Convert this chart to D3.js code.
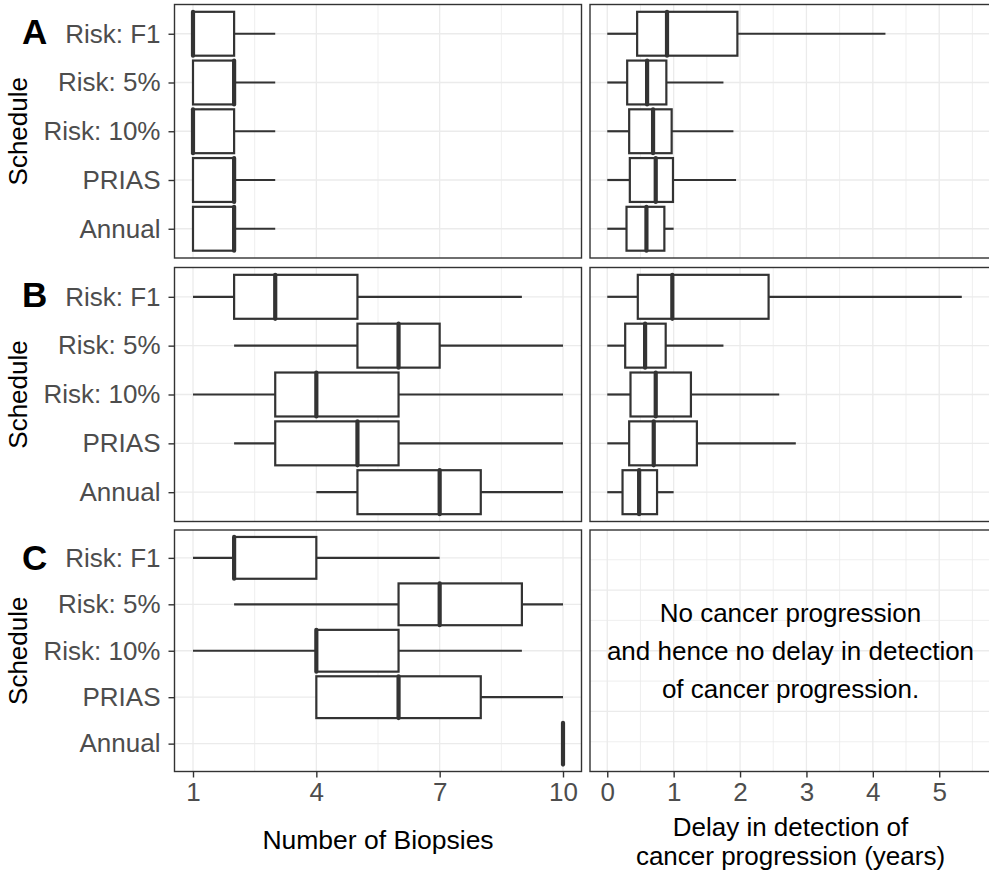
<!DOCTYPE html>
<html>
<head>
<meta charset="utf-8">
<script src="https://cdn.jsdelivr.net/npm/d3@7"></script>
<style>
  body { margin: 0; background: #fff; }
  text { font-family: "Liberation Sans", Arial, sans-serif; }
</style>
</head>
<body>
<svg class="chart"></svg>
<script>
var schedules = ["Risk: F1", "Risk: 5%", "Risk: 10%", "PRIAS", "Annual"];

// each row: [min, q1, median, q3, max]
var biopsiesA = [[1, 1, 1, 2, 3], [1, 1, 2, 2, 3], [1, 1, 1, 2, 3], [1, 1, 2, 2, 3], [1, 1, 2, 2, 3]];
var delayA = [[0, 0.45, 0.90, 1.96, 4.19], [0, 0.30, 0.60, 0.89, 1.75], [0, 0.33, 0.69, 0.97, 1.90], [0, 0.34, 0.73, 0.99, 1.94], [0, 0.29, 0.59, 0.86, 1.00]];
var biopsiesB = [[1, 2, 3, 5, 9], [2, 5, 6, 7, 10], [1, 3, 4, 6, 10], [2, 3, 5, 6, 10], [4, 5, 7, 8, 10]];
var delayB = [[0, 0.46, 0.98, 2.43, 5.34], [0, 0.27, 0.57, 0.88, 1.75], [0, 0.35, 0.73, 1.26, 2.59], [0, 0.33, 0.70, 1.35, 2.84], [0, 0.23, 0.48, 0.75, 1.00]];
var biopsiesC = [[1, 2, 2, 4, 7], [2, 6, 7, 9, 10], [1, 4, 4, 6, 9], [4, 4, 6, 8, 10], [10, 10, 10, 10, 10]];

var biopsyTicks = [1, 4, 7, 10];
var biopsyMinor = [2.5, 5.5, 8.5];
var delayTicks = [0, 1, 2, 3, 4, 5];
var delayMinor = [0.5, 1.5, 2.5, 3.5, 4.5, 5.5];
var emptyTicks = [-1, 0, 1];
var emptyMinor = [-1.5, -0.5, 0.5, 1.5];
var rowLabels = ["A", "B", "C"];
var noDelayLines = ["No cancer progression", "and hence no delay in detection", "of cancer progression."];

var W = 989, H = 872;
var ink = "#333333", grid = "#EBEBEB", tickText = "#4D4D4D";

var svg = d3.select(".chart").attr("width", W).attr("height", H);

var leftX = d3.scaleLinear().domain([0.55, 10.45]).range([174.5, 581.5]);
// right panel runs a little past the picture's edge
var rightX = d3.scaleLinear().domain([-0.26, 5.81]).range([590, 993]);

var rows = [
  {top: 4.5, bottom: 258, left: biopsiesA, right: delayA, labelY: 44},
  {top: 267.5, bottom: 521.5, left: biopsiesB, right: delayB, labelY: 306.5},
  {top: 530, bottom: 771.5, left: biopsiesC, right: null, labelY: 570}
];

function vlines(g, x, vals, top, bottom, w) {
  g.selectAll(null).data(vals).enter().append("line")
    .attr("x1", function(d) { return x(d); }).attr("x2", function(d) { return x(d); })
    .attr("y1", top).attr("y2", bottom)
    .style("stroke", grid).style("stroke-width", w);
}

function hlines(g, y, vals, x0, x1, w) {
  g.selectAll(null).data(vals).enter().append("line")
    .attr("x1", x0).attr("x2", x1)
    .attr("y1", function(d) { return y(d); }).attr("y2", function(d) { return y(d); })
    .style("stroke", grid).style("stroke-width", w);
}

function drawBoxes(g, x, y, stats) {
  var half = y.step() * 0.45;
  var box = g.selectAll(null).data(stats).enter().append("g");
  box.each(function(d, i) {
    var b = d3.select(this), cy = y(schedules[i]);
    if (d[0] < d[1]) {
      b.append("line").attr("x1", x(d[0])).attr("x2", x(d[1])).attr("y1", cy).attr("y2", cy)
        .style("stroke", ink).style("stroke-width", 2.2);
    }
    if (d[3] < d[4]) {
      b.append("line").attr("x1", x(d[3])).attr("x2", x(d[4])).attr("y1", cy).attr("y2", cy)
        .style("stroke", ink).style("stroke-width", 2.2);
    }
    b.append("rect")
      .attr("x", x(d[1])).attr("width", x(d[3]) - x(d[1]))
      .attr("y", cy - half).attr("height", half * 2)
      .style("fill", "white").style("stroke", ink).style("stroke-width", 2.2);
    b.append("line")
      .attr("x1", x(d[2])).attr("x2", x(d[2]))
      .attr("y1", cy - half).attr("y2", cy + half)
      .style("stroke", ink).style("stroke-width", 4.2).style("stroke-linecap", "round");
  });
}

function frame(g, x, top, bottom) {
  g.append("rect")
    .attr("x", x.range()[0]).attr("y", top)
    .attr("width", x.range()[1] - x.range()[0]).attr("height", bottom - top)
    .style("fill", "none").style("stroke", ink).style("stroke-width", 1.4);
}

rows.forEach(function(r, ri) {
  var y = d3.scalePoint().domain(schedules).range([r.top, r.bottom]).padding(0.6);

  // left panel
  var gl = svg.append("g");
  vlines(gl, leftX, biopsyMinor, r.top, r.bottom, 0.8);
  vlines(gl, leftX, biopsyTicks, r.top, r.bottom, 1.3);
  hlines(gl, y, schedules, 174.5, 581.5, 1.3);
  drawBoxes(gl, leftX, y, r.left);
  frame(gl, leftX, r.top, r.bottom);

  var yAxis = svg.append("g").attr("transform", "translate(174.5,0)")
    .call(d3.axisLeft(y).tickSize(6).tickPadding(8));
  yAxis.select(".domain").remove();
  yAxis.selectAll(".tick line").style("stroke", ink).style("stroke-width", 1.4);
  yAxis.selectAll(".tick text").style("font-size", "26px").style("fill", tickText)
    .style("font-family", "Liberation Sans, Arial, sans-serif");

  svg.append("text")
    .attr("transform", "translate(27," + ((r.top + r.bottom) / 2) + ") rotate(-90)")
    .attr("text-anchor", "middle")
    .style("font-size", "26px")
    .text("Schedule");

  svg.append("text")
    .attr("x", 22).attr("y", r.labelY)
    .style("font-size", "35px").style("font-weight", "bold")
    .text(rowLabels[ri]);

  // right panel
  var gr = svg.append("g");
  if (r.right) {
    vlines(gr, rightX, delayMinor, r.top, r.bottom, 0.8);
    vlines(gr, rightX, delayTicks, r.top, r.bottom, 1.3);
    hlines(gr, y, schedules, 590, 993, 1.3);
    drawBoxes(gr, rightX, y, r.right);
  } else {
    var yEmpty = d3.scaleLinear().domain([-1.99, 1.99]).range([r.bottom, r.top]);
    vlines(gr, rightX, delayMinor, r.top, r.bottom, 0.8);
    hlines(gr, yEmpty, emptyMinor, 590, 993, 0.8);
    vlines(gr, rightX, delayTicks, r.top, r.bottom, 1.3);
    hlines(gr, yEmpty, emptyTicks, 590, 993, 1.3);
    var note = gr.append("text")
      .attr("x", 790.5).attr("y", 621.5)
      .attr("text-anchor", "middle")
      .style("font-size", "26px").style("fill", "black");
    note.selectAll("tspan").data(noDelayLines).enter().append("tspan")
      .attr("x", 790.5)
      .attr("dy", function(d, i) { return i === 0 ? 0 : 38.4; })
      .text(function(d) { return d; });
  }
  frame(gr, rightX, r.top, r.bottom);
});

// bottom axes
var bottom = 771.5;
var xAxisL = svg.append("g").attr("transform", "translate(0," + bottom + ")")
  .call(d3.axisBottom(leftX).tickValues(biopsyTicks).tickFormat(d3.format("d")).tickSize(6).tickPadding(5));
var xAxisR = svg.append("g").attr("transform", "translate(0," + bottom + ")")
  .call(d3.axisBottom(rightX).tickValues(delayTicks).tickFormat(d3.format("d")).tickSize(6).tickPadding(5));
[xAxisL, xAxisR].forEach(function(a) {
  a.select(".domain").remove();
  a.selectAll(".tick line").style("stroke", ink).style("stroke-width", 1.4);
  a.selectAll(".tick text").style("font-size", "26px").style("fill", tickText)
    .style("font-family", "Liberation Sans, Arial, sans-serif");
});

svg.append("text")
  .attr("x", (174.5 + 581.5) / 2).attr("y", 848.5)
  .attr("text-anchor", "middle").style("font-size", "26.5px")
  .text("Number of Biopsies");

var rTitle = svg.append("text")
  .attr("x", 790.5).attr("y", 836)
  .attr("text-anchor", "middle").style("font-size", "26px");
rTitle.append("tspan").attr("x", 790.5).attr("dy", 0).text("Delay in detection of");
rTitle.append("tspan").attr("x", 790.5).attr("dy", 29).text("cancer progression (years)");
</script>
</body>
</html>
